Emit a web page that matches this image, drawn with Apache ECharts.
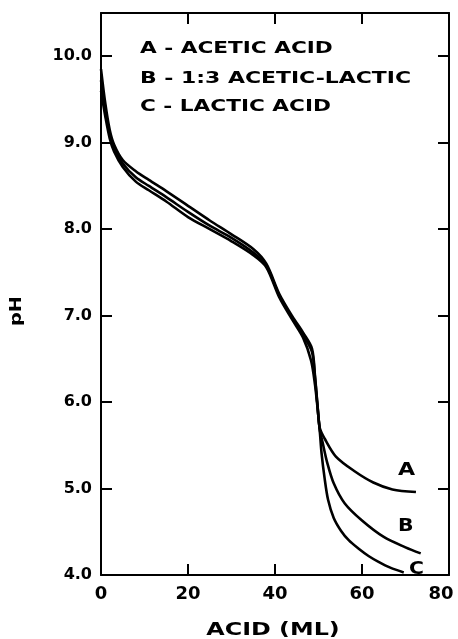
<!DOCTYPE html>
<html>
<head>
<meta charset="utf-8">
<script src="https://cdn.jsdelivr.net/npm/echarts@6/dist/echarts.min.js"></script>
<style>html,body{margin:0;padding:0;background:#fff}#c{width:458px;height:639px}</style>
</head>
<body>
<div id="c"></div>
<script>
// Tick values
const xTicks = [0, 20, 40, 60, 80];
const yTicks = [4, 5, 6, 7, 8, 9, 10];

// Curve A - acetic acid
const acidA = [0,1,2,3,5,8,11,15,20,25,30,35,38,41,44,46.5,48.5,49.2,49.8,50.3,51.5,54,58.3,62.6,67,72.4];
const pHA   = [9.85,9.45,9.15,8.98,8.8,8.67,8.57,8.44,8.27,8.1,7.94,7.77,7.6,7.25,6.99,6.8,6.62,6.3,5.95,5.7,5.57,5.37,5.2,5.07,4.99,4.96];

// Curve B - 1:3 acetic-lactic
const acidB = [0,1,2,3,5,8,11,15,20,25,30,35,38,41,44,46.5,48.5,49.2,49.8,50.3,51,52,53.5,56,60,65,70,73.5];
const pHB   = [9.72,9.38,9.1,8.94,8.76,8.6,8.5,8.37,8.2,8.04,7.9,7.73,7.58,7.23,6.97,6.77,6.58,6.28,5.94,5.68,5.52,5.3,5.06,4.83,4.63,4.44,4.32,4.25];

// Curve C - lactic acid
const acidC = [0,1,2,3,5,8,11,15,20,25,30,35,38,41,44,46.5,48.3,49.2,49.8,50.3,50.7,51.4,52.2,53.5,55.2,57,59.1,61.5,63.7,66.5,69.6];
const pHC   = [9.6,9.3,9.05,8.9,8.72,8.55,8.45,8.32,8.14,8.0,7.86,7.7,7.56,7.21,6.95,6.74,6.48,6.2,5.92,5.66,5.41,5.12,4.87,4.66,4.51,4.4,4.31,4.22,4.155,4.085,4.03];

const legendLines = ['A - ACETIC ACID', 'B - 1:3 ACETIC-LACTIC', 'C - LACTIC ACID'];
const curveNames = ['A', 'B', 'C'];
const xTitle = 'ACID (ML)';
const yTitle = 'pH';

const zip = (xs, ys) => xs.map((x, i) => [x, ys[i]]);
const FONT = '"DejaVu Sans", sans-serif';

const chart = echarts.init(document.getElementById('c'), null, {renderer: 'canvas'});

const axisLineStyle = {show: true, onZero: false, lineStyle: {color: '#000', width: 2}};
const tickStyle = {show: true, inside: true, length: 11, lineStyle: {color: '#000', width: 2}};

const lineSeries = (name, data) => ({
  name, type: 'line', data, showSymbol: false, smooth: 0.3,
  lineStyle: {color: '#000', width: 2.6}, itemStyle: {color: '#000'},
  xAxisIndex: 0, yAxisIndex: 0, silent: true
});

const txt = (text, left, top, size, sx) => ({
  type: 'text', x: left, y: top, scaleX: sx || 1,
  style: {text, fill: '#000', font: 'bold ' + size + 'px ' + FONT}
});

chart.setOption({
  animation: false,
  backgroundColor: '#fff',
  grid: {left: 101, right: 9, top: 13, bottom: 64, containLabel: false, outerBoundsMode: 'none'},
  xAxis: [
    {
      type: 'value', position: 'bottom', min: xTicks[0], max: xTicks[xTicks.length - 1], interval: 20,
      axisLine: axisLineStyle, axisTick: tickStyle, splitLine: {show: false},
      axisLabel: {
        margin: 10, color: '#000', fontSize: 18, fontWeight: 'bold', fontFamily: FONT,
        formatter: v => (v === xTicks[xTicks.length - 1] ? '{m|' + v + '}' : String(v)),
        rich: {m: {fontSize: 18, fontWeight: 'bold', fontFamily: FONT, color: '#000', padding: [0, 16, 0, 0]}}
      }
    },
    {
      type: 'value', position: 'top', min: 0, max: 80, interval: 20,
      axisLine: axisLineStyle, axisTick: tickStyle, splitLine: {show: false},
      axisLabel: {show: false}
    }
  ],
  yAxis: [
    {
      type: 'value', position: 'left', min: yTicks[0], max: 10.5, interval: 1,
      axisLine: axisLineStyle, axisTick: tickStyle, splitLine: {show: false},
      axisLabel: {
        margin: 9, color: '#000', fontSize: 16, fontWeight: 'bold', fontFamily: FONT,
        formatter: v => (yTicks.includes(v) ? v.toFixed(1) : '')
      }
    },
    {
      type: 'value', position: 'right', min: 4, max: 10.5, interval: 1,
      axisLine: axisLineStyle, axisTick: tickStyle, splitLine: {show: false},
      axisLabel: {show: false}
    }
  ],
  series: [
    lineSeries('A', zip(acidA, pHA)),
    lineSeries('B', zip(acidB, pHB)),
    lineSeries('C', zip(acidC, pHC))
  ],
  graphic: [
    txt(legendLines[0], 140, 41, 16, 1.35),
    txt(legendLines[1], 140, 71, 16, 1.37),
    txt(legendLines[2], 140, 99, 16, 1.35),
    txt(curveNames[0], 398, 462, 17, 1.3),
    txt(curveNames[1], 398, 518, 17, 1.2),
    txt(curveNames[2], 409, 561, 17, 1.2),
    {type: 'text', x: 273, y: 631, scaleX: 1.4, style: {text: xTitle, fill: '#000', font: 'bold 17px ' + FONT, textAlign: 'center', textVerticalAlign: 'middle'}},
    {type: 'text', x: 17, y: 311, rotation: Math.PI / 2, scaleX: 1.2,
     style: {text: yTitle, fill: '#000', font: 'bold 16px ' + FONT, textAlign: 'center', textVerticalAlign: 'middle'}}
  ]
});
</script>
</body>
</html>
